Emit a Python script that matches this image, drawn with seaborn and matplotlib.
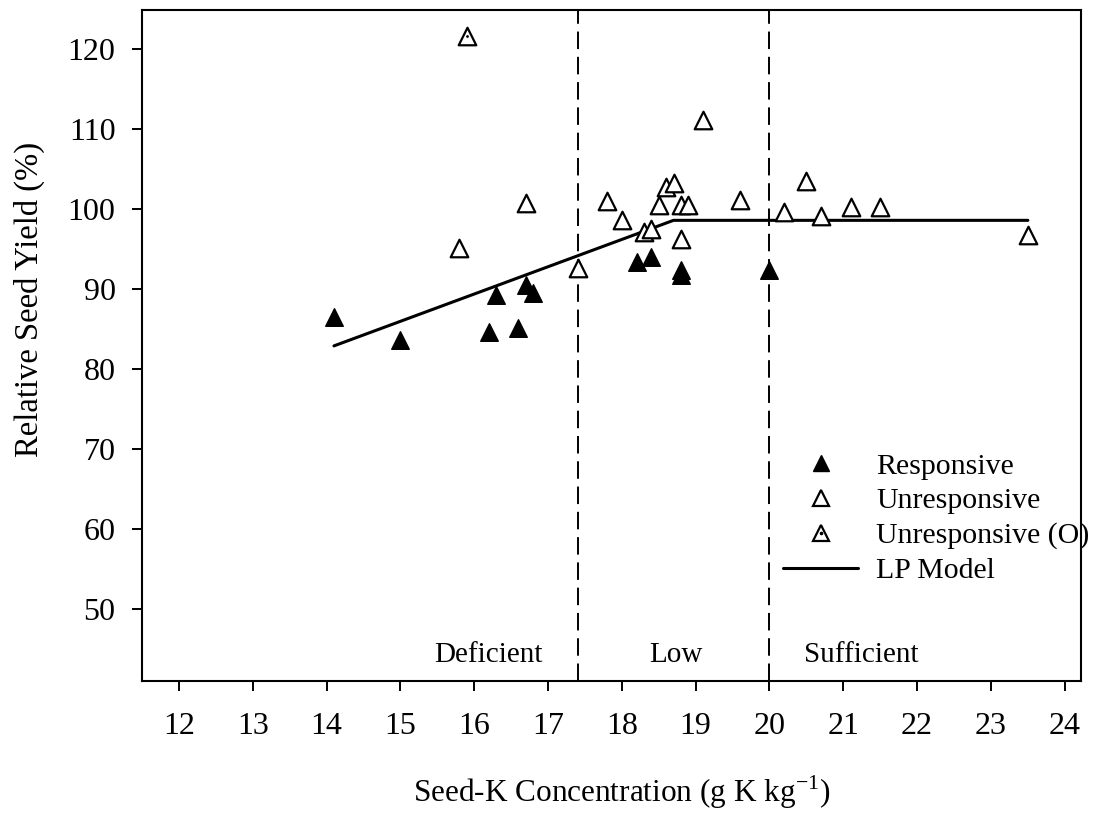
import numpy as np
import pandas as pd
import matplotlib
matplotlib.use("Agg")
import matplotlib.pyplot as plt
from matplotlib.lines import Line2D
from matplotlib.legend_handler import HandlerTuple
import seaborn as sns

# ---------------- data ----------------
resp_x = [14.1, 15.0, 16.2, 16.3, 16.6, 16.7, 16.8, 18.2, 18.4, 18.8, 18.8, 20.0]
resp_y = [86.5, 83.7, 84.6, 89.3, 85.1, 90.5, 89.5, 93.4, 94.0, 92.4, 91.8, 92.4]

unresp_x = [15.8, 16.7, 17.4, 17.8, 18.0, 18.3, 18.4, 18.5, 18.6, 18.7, 18.8,
            18.9, 18.8, 19.1, 19.6, 20.2, 20.5, 20.7, 21.1, 21.5, 23.5]
unresp_y = [95.1, 100.8, 92.6, 101.0, 98.7, 97.2, 97.5, 100.5, 102.8, 103.3, 100.5,
            100.5, 96.3, 111.2, 101.2, 99.7, 103.5, 99.1, 100.3, 100.3, 96.8]

outlier_x = [15.9]
outlier_y = [121.6]

lp_x = [14.1, 18.7, 23.5]
lp_y = [82.9, 98.6, 98.6]

thresholds = [17.4, 20.0]
zone_labels = ["Deficient", "Low", "Sufficient"]
zone_x = [16.19, 18.73, 21.24]

x_ticks = list(range(12, 25))
y_ticks = list(range(50, 121, 10))

# ---------------- style ----------------
sns.set_theme(style="ticks")
plt.rcParams["font.family"] = ["Liberation Serif", "DejaVu Serif"]
plt.rcParams["mathtext.fontset"] = "custom"
plt.rcParams["mathtext.rm"] = "Liberation Serif"
for k in ["text.color", "axes.labelcolor", "xtick.color", "ytick.color",
          "xtick.labelcolor", "ytick.labelcolor", "axes.edgecolor"]:
    plt.rcParams[k] = "black"

fig = plt.figure(figsize=(10.94, 8.13), dpi=100)
ax = fig.add_axes([142 / 1094, 1 - 681 / 813, (1081 - 142) / 1094, (681 - 10) / 813])

df_r = pd.DataFrame({"x": resp_x, "y": resp_y})
df_u = pd.DataFrame({"x": unresp_x, "y": unresp_y})
df_o = pd.DataFrame({"x": outlier_x, "y": outlier_y})
df_lp = pd.DataFrame({"x": lp_x, "y": lp_y})

ms = 160
sns.lineplot(data=df_lp, x="x", y="y", ax=ax, color="black", linewidth=2.2, zorder=2)
sns.scatterplot(data=df_u, x="x", y="y", ax=ax, marker="^", s=ms,
                facecolor="white", edgecolor="black", linewidth=1.6, zorder=3)
sns.scatterplot(data=df_o, x="x", y="y", ax=ax, marker="^", s=ms,
                facecolor="white", edgecolor="black", linewidth=1.6, zorder=3)
sns.scatterplot(data=df_o, x="x", y="y", ax=ax, marker="o", s=4,
                color="black", linewidth=0, zorder=4)
sns.scatterplot(data=df_r, x="x", y="y", ax=ax, marker="^", s=ms,
                color="black", edgecolor="black", linewidth=1.0, zorder=3)

for t in thresholds:
    ax.axvline(t, color="black", linewidth=1.4, dashes=(9, 4), zorder=1)

for lab, zx in zip(zone_labels, zone_x):
    ax.text(zx, 44.3, lab, ha="center", va="center", fontsize=21)

ax.set_xlim(11.5, 24.22)
ax.set_ylim(41, 124.9)
ax.set_xticks(x_ticks)
ax.set_yticks(y_ticks)
ax.tick_params(axis="both", direction="out", length=7, width=1.4,
               labelsize=23)
ax.tick_params(axis="x", pad=15)
ax.tick_params(axis="y", pad=12)
for sp in ax.spines.values():
    sp.set_linewidth(1.5)

ax.set_xlabel(r"Seed-K Concentration (g K kg$^{\mathregular{-1}}$)", fontsize=22.5)
ax.set_ylabel("Relative Seed Yield (%)", fontsize=23.5)
ax.xaxis.set_label_coords(0.511, -0.137)
ax.yaxis.set_label_coords(-0.103, 0.568)

# legend
h_r = Line2D([], [], marker="^", linestyle="none", markersize=11.5,
             markerfacecolor="black", markeredgecolor="black")
h_u = Line2D([], [], marker="^", linestyle="none", markersize=11.5,
             markerfacecolor="white", markeredgecolor="black", markeredgewidth=1.6)
h_dot = Line2D([], [], marker="o", linestyle="none", markersize=1.6,
               markerfacecolor="black", markeredgecolor="black")
h_lp = Line2D([], [], color="black", linewidth=2.2)
ax.legend([h_r, h_u, (h_u, h_dot), h_lp],
          ["Responsive", "Unresponsive", "Unresponsive (O)", "LP Model"],
          handler_map={tuple: HandlerTuple(ndivide=1)},
          loc="upper left", bbox_to_anchor=(0.683, 0.34), frameon=False,
          fontsize=21.5, handlelength=2.5, handletextpad=0.6,
          labelspacing=0.26, borderpad=0, borderaxespad=0)

fig.savefig("out.png", dpi=100)
